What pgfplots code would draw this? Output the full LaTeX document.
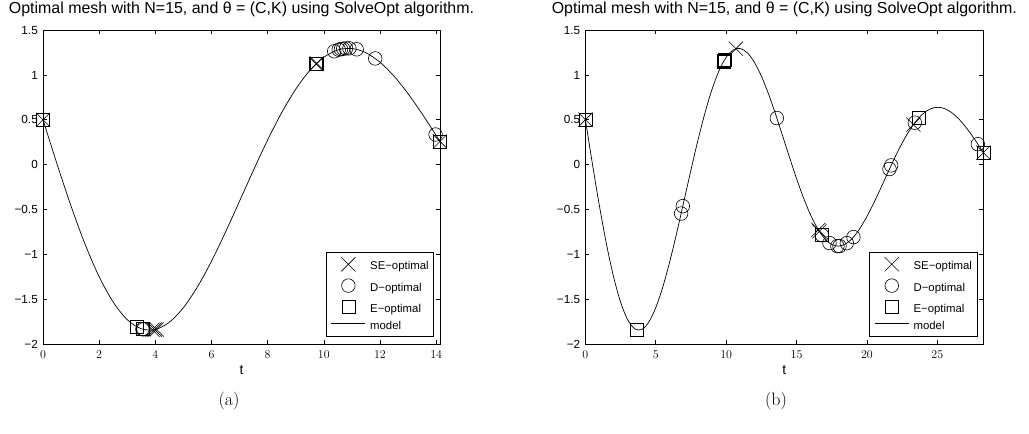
\documentclass[border=0pt]{standalone}
\usepackage{fontspec}
\usepackage{pgfplots}
\usepackage{pgfplotstable}
\pgfplotsset{compat=1.18}
\newfontfamily\arial{Liberation Sans}

\pgfplotstableread{
t y
0 0.5000
0.5 0.0058
1 -0.4647
1.5 -0.8895
2 -1.2507
2.5 -1.5334
3 -1.7289
3.5 -1.8302
4 -1.8385
4.5 -1.7573
5 -1.5949
5.5 -1.3633
6 -1.0769
6.5 -0.7518
7 -0.4071
7.5 -0.0591
8 0.2748
8.5 0.5790
9 0.8405
9.5 1.0486
10 1.1953
10.5 1.2776
11 1.2938
11.5 1.2465
12 1.1412
12.5 0.9859
13 0.7902
13.5 0.5654
14 0.3254
14.137 0.2581
}\modelA

\pgfplotstableread{
t y
0 0.5000
0.5 0.0058
1 -0.4647
1.5 -0.8895
2 -1.2507
2.5 -1.5334
3 -1.7289
3.5 -1.8302
4 -1.8385
4.5 -1.7573
5 -1.5949
5.5 -1.3633
6 -1.0769
6.5 -0.7518
7 -0.4071
7.5 -0.0591
8 0.2748
8.5 0.5790
9 0.8405
9.5 1.0486
10 1.1953
10.5 1.2776
11 1.2938
11.5 1.2465
12 1.1412
12.5 0.9859
13 0.7902
13.5 0.5654
14 0.3254
14.5 0.0805
15 -0.1562
15.5 -0.3739
16 -0.5626
16.5 -0.7153
17 -0.8256
17.5 -0.8906
18 -0.9093
18.5 -0.8831
19 -0.8154
19.5 -0.7116
20 -0.5783
20.5 -0.4243
21 -0.2569
21.5 -0.0839
22 0.0837
22.5 0.2390
23 0.3752
23.5 0.4867
24 0.5691
24.5 0.6199
25 0.6382
25.5 0.6248
26 0.5818
26.5 0.5127
27 0.4222
27.5 0.3158
28 0.1994
28.274 0.1329
}\modelB

\pgfplotsset{
  mystyle/.style={
    scale only axis, height=314bp, ymin=-2, ymax=1.5, clip=false,
    axis line style={line width=0.8bp},
    tick style={line width=0.6bp, black},
    major tick length=4bp, tick align=inside,
    ytick={-2,-1.5,-1,-0.5,0,0.5,1,1.5},
    yticklabels={−2,−1.5,−1,−0.5,0,0.5,1,1.5},
    ticklabel style={font=\arial\fontsize{11.8}{14}\selectfont, inner sep=0pt},
    yticklabel style={anchor=base east, xshift=-5bp, yshift=-4.2bp},
    xticklabel style={anchor=base, yshift=-14.5bp},
    title={Optimal mesh with N=15, and θ = (C,K) using SolveOpt algorithm.},
    title style={font=\arial\fontsize{16}{19}\selectfont, at={(0.5,1)}, anchor=base, yshift=11bp, inner sep=0pt},
    xlabel={t},
    xlabel style={font=\arial\fontsize{14}{16}\selectfont, at={(0.5,0)}, anchor=base, yshift=-31bp, inner sep=0pt},
    legend style={at={(1,0)}, anchor=south east, xshift=-6bp, yshift=7bp,
      draw=black, line width=0.8bp, font=\arial\fontsize{11.4}{13}\selectfont,
      inner xsep=5bp, inner ysep=5bp, row sep=6.5bp,
      nodes={inner sep=0pt, text height=8bp, text depth=2.5bp},
      cells={anchor=west}},
    /tikz/every odd column/.append style={column sep=4.5bp},
  },
  mk/.style={only marks, line width=0.6bp, black,
    legend image code/.code={\draw[##1] plot coordinates {(18bp,2.75bp)};}},
  mx/.style={mk, mark=x, mark size=10bp},
  mo/.style={mk, mark=o, mark size=6.8bp},
  ms/.style={mk, mark=square, mark size=6.5bp},
  mdl/.style={black, line width=0.7bp, smooth, no marks,
    legend image code/.code={\draw[##1] (1bp,2.75bp) -- (35bp,2.75bp);}},
}

\begin{document}
\begin{tikzpicture}
\path[use as bounding box] (0bp,0bp) rectangle (1029bp,434bp);
\begin{axis}[mystyle, at={(43bp,90bp)}, anchor=south west, width=397bp,
  xmin=0, xmax=14.137, xtick={0,2,4,6,8,10,12,14}]
\addplot[mx] coordinates {(0,0.5) (3.9,-1.841) (3.98,-1.840) (4.05,-1.839) (9.72,1.121) (9.75,1.127) (14.137,0.258)};
\addlegendentry{SE−optimal}
\addplot[mo] coordinates {(3.54,-1.8345) (3.58,-1.836) (10.37,1.2627) (10.53,1.2805) (10.61,1.2867) (10.69,1.2915) (10.79,1.2951) (10.91,1.2956) (11.17,1.2847) (11.83,1.1831) (13.98,0.335)};
\addlegendentry{D−optimal}
\addplot[ms] coordinates {(0,0.5) (3.35,-1.810) (3.54,-1.8345) (3.56,-1.835) (9.72,1.121) (9.74,1.125) (14.137,0.258)};
\addlegendentry{E−optimal}
\addplot[mdl] table[x=t,y=y] {\modelA};
\addlegendentry{model}
\end{axis}
\begin{axis}[mystyle, at={(585.4bp,90bp)}, anchor=south west, width=398bp,
  xmin=0, xmax=28.274, xtick={0,5,10,15,20,25}]
\addplot[mx] coordinates {(0,0.5) (10.69,1.2915) (16.55,-0.728) (16.62,-0.7456) (23.3,0.4453) (28.274,0.1329)};
\addlegendentry{SE−optimal}
\addplot[mo] coordinates {(6.8,-0.546) (6.92,-0.4636) (13.6,0.5185) (16.8,-0.7867) (17.34,-0.8748) (17.9,-0.9092) (18.05,-0.9088) (18.57,-0.8759) (19.04,-0.8085) (21.6,-0.0498) (21.72,-0.0092) (23.4,0.4669) (27.88,0.2276)};
\addlegendentry{D−optimal}
\addplot[ms] coordinates {(0,0.5) (3.65,-1.8426) (9.82,1.15) (9.85,1.158) (9.88,1.165) (16.8,-0.7867) (23.71,0.5250) (28.274,0.1329)};
\addlegendentry{E−optimal}
\addplot[mdl] table[x=t,y=y] {\modelB};
\addlegendentry{model}
\end{axis}
\node[font=\fontsize{18}{21}\selectfont, inner sep=0pt] at (229bp,33bp) {(a)};
\node[font=\fontsize{18}{21}\selectfont, inner sep=0pt] at (776bp,33bp) {(b)};
\end{tikzpicture}
\end{document}
